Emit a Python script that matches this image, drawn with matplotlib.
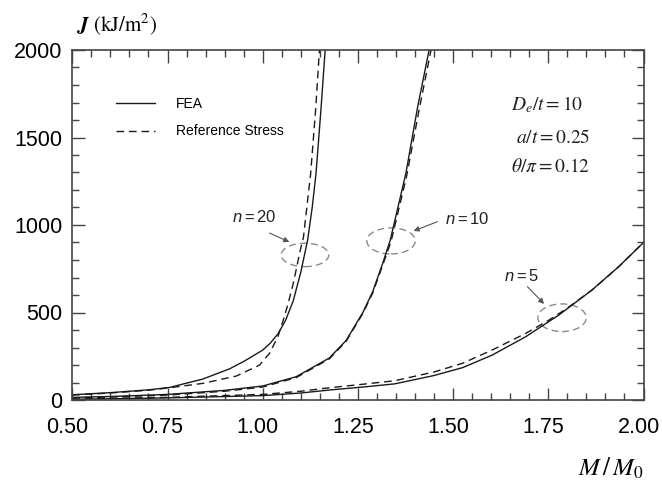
import matplotlib
matplotlib.use("Agg")
import matplotlib.pyplot as plt
from matplotlib.patches import Ellipse
from matplotlib.ticker import MultipleLocator, FormatStrFormatter
from matplotlib.transforms import ScaledTranslation

plt.rcParams['font.family'] = ['Liberation Sans', 'DejaVu Sans']
plt.rcParams['mathtext.fontset'] = 'custom'
plt.rcParams['mathtext.rm'] = 'Liberation Sans'
plt.rcParams['mathtext.it'] = 'Liberation Sans:italic'
plt.rcParams['mathtext.bf'] = 'Liberation Sans:bold'

# ---- data ----
n20_fea_x = [0.50, 0.60, 0.70, 0.756, 0.843, 0.913, 0.95, 1.00, 1.02, 1.04, 1.06, 1.08, 1.10, 1.118, 1.130, 1.140, 1.153, 1.164]
n20_fea_J = [30, 42, 58, 72, 120, 178, 220, 285, 325, 378, 455, 565, 730, 914, 1100, 1295, 1660, 2000]

n20_ref_x = [0.50, 0.60, 0.70, 0.756, 0.843, 0.931, 0.992, 1.018, 1.04, 1.053, 1.066, 1.079, 1.088, 1.098, 1.107, 1.126, 1.139, 1.149]
n20_ref_J = [28, 40, 56, 70, 95, 137, 200, 267, 362, 450, 545, 655, 745, 850, 930, 1295, 1660, 2000]

n10_fea_x = [0.50, 0.60, 0.75, 0.90, 1.00, 1.088, 1.175, 1.219, 1.263, 1.289, 1.315, 1.335, 1.376, 1.407, 1.437]
n10_fea_J = [15, 20, 32, 55, 80, 133, 240, 340, 500, 620, 780, 914, 1295, 1676, 2000]

n10_ref_x = [0.50, 0.60, 0.75, 0.90, 1.00, 1.088, 1.175, 1.219, 1.263, 1.289, 1.315, 1.337, 1.378, 1.410, 1.442]
n10_ref_J = [12, 17, 28, 50, 74, 128, 235, 335, 495, 612, 770, 905, 1280, 1650, 2000]

n5_fea_x = [0.50, 0.75, 1.00, 1.10, 1.175, 1.263, 1.346, 1.394, 1.45, 1.525, 1.603, 1.691, 1.778, 1.865, 1.935, 2.00]
n5_fea_J = [4, 12, 25, 40, 57, 74, 92, 114, 140, 185, 257, 362, 486, 629, 762, 900]

n5_ref_x = [0.50, 0.75, 1.00, 1.10, 1.175, 1.263, 1.346, 1.394, 1.45, 1.525, 1.603, 1.691, 1.752, 1.80, 1.865, 1.935, 2.00]
n5_ref_J = [5, 15, 32, 50, 70, 90, 110, 133, 160, 210, 286, 381, 457, 525, 629, 762, 900]

# ellipse markers: (center x, center J, width, height)
ellipses = [(1.111, 829, 0.125, 134), (1.337, 909, 0.127, 149), (1.786, 470, 0.127, 158)]
# labels: text, text pos, arrow tail, arrow head
n_labels = [r'$n = 20$', r'$n = 10$', r'$n = 5$']
n_label_pos = [(0.977, 1046), (1.536, 1034), (1.680, 709)]
arrow_tail = [(1.018, 954), (1.459, 1019), (1.695, 648)]
arrow_head = [(1.070, 903), (1.396, 966), (1.739, 549)]

params = [r'$D_e/t = 10$', r'$a/t = 0.25$', r'$\theta/\pi = 0.12$']
params_pos = [(1.652, 1686), (1.665, 1497), (1.652, 1331)]

x_ticks = [0.50, 0.75, 1.00, 1.25, 1.50, 1.75, 2.00]
y_ticks = [0, 500, 1000, 1500, 2000]

# ---- figure ----
fig = plt.figure(figsize=(6.62, 4.87), dpi=100)
ax = fig.add_axes([72.3 / 662, 1 - 400 / 487, (643.5 - 72.3) / 662, 350 / 487])

lc = '#1a1a1a'
dash = (5.5, 3.5)
ax.plot(n20_fea_x, n20_fea_J, color=lc, lw=1.0, label='FEA')
ax.plot(n20_ref_x, n20_ref_J, color=lc, lw=1.0, dashes=dash, label='Reference Stress')
ax.plot(n10_fea_x, n10_fea_J, color=lc, lw=1.0)
ax.plot(n10_ref_x, n10_ref_J, color=lc, lw=1.0, dashes=dash)
ax.plot(n5_fea_x, n5_fea_J, color=lc, lw=1.0)
ax.plot(n5_ref_x, n5_ref_J, color=lc, lw=1.0, dashes=dash)

for (cx, cy, w, h) in ellipses:
    ax.add_patch(Ellipse((cx, cy), w, h, fill=False, edgecolor='#8a8a8a',
                         lw=1.0, linestyle=(0, (5, 3))))

for t, p, a0, a1 in zip(n_labels, n_label_pos, arrow_tail, arrow_head):
    ax.text(p[0], p[1], t, ha='center', va='center', fontsize=12, color='#222222')
    ax.annotate('', xy=a1, xytext=a0,
                arrowprops=dict(arrowstyle='-|>', color='#555555', lw=0.8,
                                mutation_scale=8, facecolor='white',
                                shrinkA=0, shrinkB=0))

for t, p in zip(params, params_pos):
    ax.text(p[0], p[1], t, ha='left', va='center', fontsize=14,
            math_fontfamily='stix', color='#222222')

ax.set_xlim(0.5, 2.0)
ax.set_ylim(0, 2000)
ax.set_xticks(x_ticks)
ax.set_yticks(y_ticks)
ax.xaxis.set_major_formatter(FormatStrFormatter('%.2f'))
ax.xaxis.set_minor_locator(MultipleLocator(0.05))
ax.yaxis.set_minor_locator(MultipleLocator(100))
ax.tick_params(which='both', direction='in', top=True, right=True, color='#444444')
ax.tick_params(which='major', length=9, width=1.0, labelsize=15.5)
ax.tick_params(which='minor', length=5, width=1.0)
ax.tick_params(axis='x', pad=12)
ax.tick_params(axis='y', pad=7)
shift = ScaledTranslation(-5 / 100, 0, fig.dpi_scale_trans)
for lab in ax.get_xticklabels():
    lab.set_transform(lab.get_transform() + shift)
for s in ax.spines.values():
    s.set_color('#444444')
    s.set_linewidth(1.2)

leg = ax.legend(loc='upper left', bbox_to_anchor=(0.077, 0.865), frameon=False,
                fontsize=10, handlelength=2.8, handletextpad=1.5, labelspacing=0.95,
                borderpad=0, borderaxespad=0)

ax.text(0.008, 1.074, r'$\mathbfit{J}\ (\mathrm{kJ/m^2})$', transform=ax.transAxes,
        ha='left', va='center', fontsize=15, math_fontfamily='stix')
ax.text(1.0, -0.194, r'$M\,/\,M_0$', transform=ax.transAxes,
        ha='right', va='center', fontsize=18, math_fontfamily='stix')

fig.savefig('out.png', dpi=100)
